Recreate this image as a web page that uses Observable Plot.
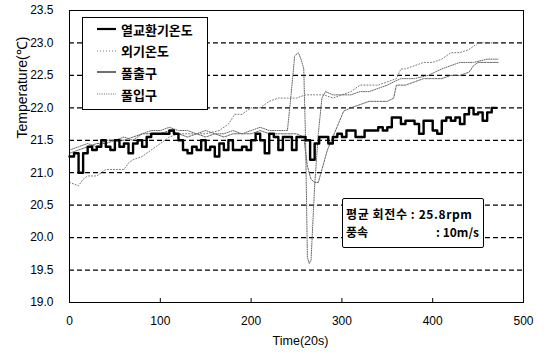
<!DOCTYPE html>
<html><head><meta charset="utf-8">
<script src="https://cdn.jsdelivr.net/npm/d3@7"></script>
<script src="https://cdn.jsdelivr.net/npm/@observablehq/plot@0.6"></script>
<style>
body{margin:0;background:#fff;}
#wrap{position:relative;width:547px;height:354px;overflow:hidden;}
.box{position:absolute;background:#fff;border:1px solid #000;font-family:"Noto Sans CJK KR","Liberation Sans",sans-serif;font-weight:bold;color:#000;box-sizing:border-box;}
.lg-row{position:absolute;left:14px;height:20px;display:flex;align-items:center;font-size:13px;white-space:nowrap;}
.lg-row svg{margin-right:5px;}
.an-row{position:absolute;font-size:12px;white-space:nowrap;line-height:16px;}
</style></head><body><div id="wrap"></div>
<script>
// ---- data ----
const seriesNames = ["열교환기온도", "외기온도", "풀출구", "풀입구"];
const xTicks = [0, 100, 200, 300, 400, 500];
const yTicks = [19.0, 19.5, 20.0, 20.5, 21.0, 21.5, 22.0, 22.5, 23.0, 23.5];

// 열교환기온도 (heat-exchanger temperature), thick step line
const hxTime = [0,5,10,15,20,25,30,35,40,45,50,55,60,65,70,75,80,85,90,95,100,105,110,115,120,125,130,135,140,145,150,155,160,165,170,175,180,185,190,195,200,205,210,215,220,225,230,235,240,245,250,255,260,265,270,275,280,285,290,295,300,305,310,315,320,325,330,335,340,345,350,355,360,365,370,375,380,385,390,395,400,405,410,415,420,425,430,435,440,445,450,455,460,465,470];
const hxTemp = [21.25,21.3,21.0,21.3,21.4,21.35,21.4,21.5,21.4,21.35,21.5,21.4,21.45,21.3,21.45,21.5,21.4,21.55,21.6,21.6,21.6,21.6,21.65,21.6,21.5,21.35,21.3,21.4,21.35,21.5,21.35,21.4,21.25,21.45,21.35,21.5,21.35,21.35,21.4,21.35,21.5,21.6,21.5,21.3,21.6,21.55,21.35,21.55,21.55,21.35,21.55,21.55,21.5,21.2,21.45,21.55,21.55,21.45,21.55,21.6,21.55,21.65,21.65,21.55,21.55,21.65,21.65,21.65,21.7,21.65,21.7,21.85,21.85,21.75,21.8,21.8,21.75,21.6,21.8,21.8,21.65,21.6,21.8,21.85,21.8,21.85,21.75,21.9,22.0,21.9,21.93,21.8,21.93,22.0,22.0];

// 외기온도 (outdoor temperature)
const outTime = [0,10,15,20,30,40,50,60,65,70,80,90,100,110,120,135,150,165,175,182,190,200,210,220,230,240,250,260,270,280,290,300,310,320,330,340,350,360,365,370,380,390,400,410,420,430,440,450,460,472];
const outTemp = [20.85,20.8,20.9,20.95,20.95,21.05,21.05,21.05,21.15,21.2,21.25,21.35,21.45,21.55,21.6,21.6,21.6,21.65,21.75,21.9,21.9,22.0,22.0,22.1,22.15,22.15,22.15,22.2,22.2,22.2,22.15,22.2,22.25,22.35,22.35,22.35,22.4,22.45,22.6,22.6,22.65,22.7,22.7,22.75,22.85,22.85,22.9,23.0,23.0,23.0];

// 풀출구 (outlet)
const outletTime = [0,10,20,30,40,50,60,70,80,90,100,110,120,130,140,150,160,170,180,190,200,210,220,230,240,250,258,262,266,270,274,278,284,290,296,302,310,320,330,340,350,357,360,370,380,390,400,410,420,430,440,445,450,460,472];
const outletTemp = [21.3,21.35,21.4,21.45,21.45,21.5,21.5,21.55,21.6,21.6,21.6,21.65,21.6,21.55,21.6,21.55,21.6,21.55,21.6,21.6,21.6,21.65,21.6,21.6,21.6,21.6,21.55,21.1,20.9,20.85,20.85,21.05,21.35,21.55,21.75,21.95,22.0,22.05,22.1,22.1,22.1,22.15,22.35,22.35,22.4,22.45,22.45,22.45,22.5,22.5,22.55,22.65,22.7,22.7,22.7];

// 풀입구 (inlet)
const inletTime = [0,10,20,30,40,50,60,70,80,90,100,110,120,130,140,150,160,170,180,190,200,210,220,230,240,244,248,252,255,258,260,262,264,266,270,274,278,282,290,300,310,320,330,340,350,357,365,380,395,410,420,430,445,460,472];
const inletTemp = [21.35,21.4,21.45,21.4,21.5,21.5,21.55,21.5,21.6,21.65,21.65,21.7,21.65,21.65,21.6,21.65,21.6,21.6,21.65,21.6,21.65,21.7,21.65,21.65,21.65,22.2,22.8,22.85,22.75,22.6,21.5,19.7,19.6,19.65,20.8,21.6,22.15,22.25,22.2,22.2,22.2,22.25,22.25,22.3,22.35,22.4,22.45,22.45,22.5,22.6,22.65,22.7,22.7,22.75,22.75];

const annotLines = ["평균  회전수 : 25.8rpm", "풍속", ": 10m/s"];
const xLabel = "Time(20s)";
const yLabel = "Temperature(℃)";

// ---- build tables ----
const toRows = (t, v) => t.map((x, i) => ({x, y: v[i]}));
const hx = toRows(hxTime, hxTemp);
const outdoor = toRows(outTime, outTemp);
const outlet = toRows(outletTime, outletTemp);
const inlet = toRows(inletTime, inletTemp);

const styles = [
  {stroke: "#000", strokeWidth: 2.4, dash: null},
  {stroke: "#777", strokeWidth: 1, dash: "1,2"},
  {stroke: "#555", strokeWidth: 0.9, dash: "2,1.2"},
  {stroke: "#666", strokeWidth: 1, dash: "1,1.3"}
];

const font = "'Liberation Sans', Arial, sans-serif";
const chart = Plot.plot({
  width: 547, height: 354,
  marginLeft: 69, marginRight: 24, marginTop: 10, marginBottom: 52,
  style: {fontFamily: font, fontSize: "12px", color: "#000", background: "#fff"},
  x: {domain: [0, 500], label: null},
  y: {domain: [19, 23.5], label: null},
  marks: [
    Plot.ruleY(yTicks.slice(1, -1), {stroke: "#000", strokeWidth: 1.3, strokeDasharray: "5,3"}),
    Plot.line(outdoor, {x: "x", y: "y", stroke: styles[1].stroke, strokeWidth: styles[1].strokeWidth, strokeDasharray: styles[1].dash}),
    Plot.line(outlet, {x: "x", y: "y", stroke: styles[2].stroke, strokeWidth: styles[2].strokeWidth, strokeDasharray: styles[2].dash}),
    Plot.line(inlet, {x: "x", y: "y", stroke: styles[3].stroke, strokeWidth: styles[3].strokeWidth, strokeDasharray: styles[3].dash}),
    Plot.line(hx, {x: "x", y: "y", curve: "step-after", stroke: styles[0].stroke, strokeWidth: styles[0].strokeWidth}),
    Plot.frame({stroke: "#000", strokeWidth: 1}),
    Plot.axisY({ticks: yTicks, tickSize: 0, tickPadding: 16, tickFormat: d => d.toFixed(1), fontSize: 12, label: null}),
    Plot.axisX({ticks: xTicks, tickSize: -4, tickPadding: 18, fontSize: 12, label: null}),
    Plot.text([yLabel], {frameAnchor: "left", dx: -47, dy: -18, rotate: -90, fontSize: 14, fill: "#000"}),
    Plot.text([xLabel], {frameAnchor: "bottom", dx: 4, dy: 42, fontSize: 12.5, fill: "#000"})
  ]
});
const wrap = document.getElementById("wrap");
wrap.appendChild(chart);

// legend box
const lg = document.createElement("div");
lg.className = "box";
Object.assign(lg.style, {left: "82px", top: "17px", width: "126px", height: "93px"});
seriesNames.forEach((name, i) => {
  const row = document.createElement("div");
  row.className = "lg-row";
  row.style.top = (1 + i * 21.7) + "px";
  const s = styles[i];
  const ns = "http://www.w3.org/2000/svg";
  const svg = document.createElementNS(ns, "svg");
  svg.setAttribute("width", 19); svg.setAttribute("height", 6);
  const l = document.createElementNS(ns, "line");
  l.setAttribute("x1", 0); l.setAttribute("x2", 19); l.setAttribute("y1", 3); l.setAttribute("y2", 3);
  l.setAttribute("stroke", i === 2 ? "#222" : s.stroke);
  l.setAttribute("stroke-width", i === 0 ? 2.2 : (i === 2 ? 1.3 : 1.1));
  if (s.dash && i !== 2) l.setAttribute("stroke-dasharray", s.dash);
  svg.appendChild(l);
  row.appendChild(svg);
  row.appendChild(document.createTextNode(name));
  lg.appendChild(row);
});
wrap.appendChild(lg);

// annotation box
const an = document.createElement("div");
an.className = "box";
Object.assign(an.style, {left: "342px", top: "198px", width: "142px", height: "50px", borderRadius: "2px"});
const r1 = document.createElement("div");
r1.className = "an-row"; r1.style.top = "7px"; r1.style.left = "3px"; r1.style.letterSpacing = "0.6px"; r1.textContent = annotLines[0];
const r2 = document.createElement("div");
r2.className = "an-row"; r2.style.top = "25px"; r2.style.left = "3px"; r2.textContent = annotLines[1];
const r3 = document.createElement("div");
r3.className = "an-row"; r3.style.top = "25px"; r3.style.right = "4px"; r3.textContent = annotLines[2];
an.append(r1, r2, r3);
wrap.appendChild(an);
</script></body></html>
